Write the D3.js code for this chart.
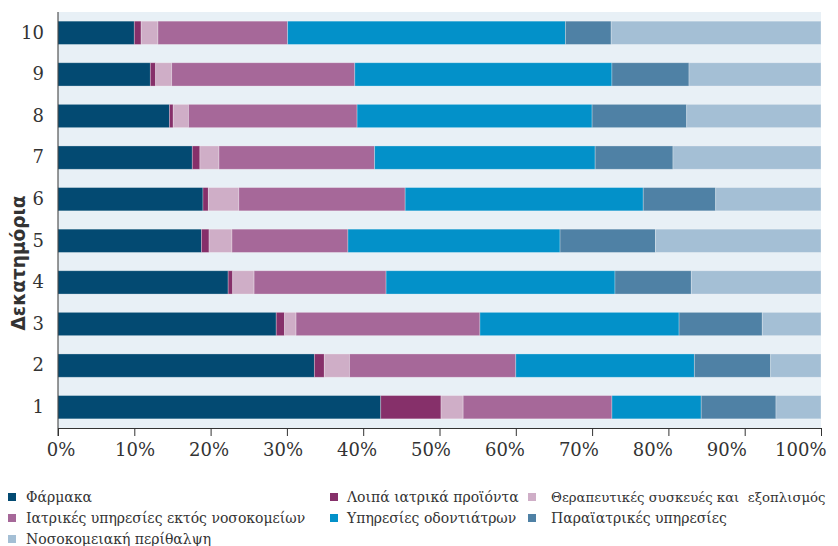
<!DOCTYPE html>
<html><head><meta charset="utf-8">
<script src="https://cdn.jsdelivr.net/npm/d3@7"></script>
<style>body{margin:0;background:#fff}svg{display:block}</style>
</head><body>
<svg id="c" width="838" height="546"></svg>
<script>
const deciles = ["1","2","3","4","5","6","7","8","9","10"];
const seriesNames = ["Φάρμακα","Λοιπά ιατρικά προϊόντα","Θεραπευτικές συσκευές και  εξοπλισμός","Ιατρικές υπηρεσίες εκτός νοσοκομείων","Υπηρεσίες οδοντιάτρων","Παραϊατρικές υπηρεσίες","Νοσοκομειακή περίθαλψη"];
const farmaka     = [42.3,33.6,28.6,22.3,18.8,19.0,17.6,14.6,12.1,10.0];
const loipa       = [7.9,1.3,1.1,0.6,1.0,0.7,1.0,0.5,0.7,0.9];
const therapeft   = [2.9,3.3,1.5,2.8,3.0,4.0,2.5,2.0,2.1,2.2];
const iatrikes    = [19.5,21.8,24.1,17.3,15.2,21.8,20.4,22.1,24.0,17.0];
const odontiatroi = [11.7,23.4,26.1,30.0,27.8,31.2,28.9,30.8,33.7,36.4];
const paraiatr    = [9.8,10.0,10.9,10.0,12.5,9.5,10.2,12.4,10.1,6.0];
const nosokom     = [5.9,6.6,7.7,17.0,21.7,13.8,19.4,17.6,17.3,27.5];
const xTicks = [0,10,20,30,40,50,60,70,80,90,100];
const colors = ["#034a72","#86306a","#cfaec7","#a66899","#0391c9","#4f81a5","#a4bfd5"];

const seriesVals = [farmaka,loipa,therapeft,iatrikes,odontiatroi,paraiatr,nosokom];
const rows = deciles.map((d,i)=>{const o={dec:d}; seriesNames.forEach((s,j)=>o[s]=seriesVals[j][i]); return o;});
const stacked = d3.stack().keys(seriesNames)(rows);

const svg = d3.select("#c");
const m = {l:58, r:821, t:12, b:428};
const x = d3.scaleLinear().domain([0,100]).range([m.l, m.r]);
const y = d3.scaleBand().domain(deciles.slice().reverse()).range([m.t, m.b]).paddingInner(0.44).paddingOuter(0.22);

svg.append("rect").attr("x",m.l).attr("y",m.t).attr("width",m.r-m.l).attr("height",m.b-m.t).attr("fill","#e8f0f6");

svg.append("g").selectAll("g").data(stacked).join("g")
  .attr("fill",(d,i)=>colors[i])
  .selectAll("rect").data(d=>d).join("rect")
  .attr("x",d=>x(d[0])).attr("width",d=>x(d[1])-x(d[0]))
  .attr("y",d=>y(d.data.dec)).attr("height",y.bandwidth())
  .attr("stroke","rgba(255,255,255,0.35)").attr("stroke-width",0.8);

const xa = svg.append("g").attr("transform",`translate(0,${m.b})`)
  .call(d3.axisBottom(x).tickValues(xTicks).tickFormat(d=>d+"%").tickSize(8).tickSizeOuter(0));
xa.select(".domain").attr("stroke","#333");
xa.selectAll(".tick line").attr("stroke","#333");
xa.selectAll("text").attr("font-family","DejaVu Serif").attr("font-size","18px").attr("fill","#333")
  .attr("dy","0.95em").attr("dx",(d,i)=>2.6-2.33*i);

const ya = svg.append("g").attr("transform",`translate(${m.l},0)`)
  .call(d3.axisLeft(y).tickSize(0).tickPadding(14));
ya.select(".domain").attr("stroke","#333").attr("d",`M0,${m.t}V${m.b+8}`);
ya.selectAll("text").attr("font-family","DejaVu Serif").attr("font-size","18px").attr("fill","#333");

svg.append("text").attr("transform","translate(25,263) rotate(-90)")
  .attr("text-anchor","middle").attr("font-family","DejaVu Sans").attr("font-weight","bold")
  .attr("font-size","18.5px").attr("fill","#333").text("Δεκατημόρια");

const legPos = [[8,497],[330,497],[528,497],[8,518],[330,518],[528,518],[8,539]];
const lg = svg.append("g").selectAll("g").data(seriesNames).join("g")
  .attr("transform",(d,i)=>`translate(${legPos[i][0]},${legPos[i][1]})`);
lg.append("rect").attr("x",0).attr("y",-4).attr("width",8).attr("height",8).attr("fill",(d,i)=>colors[i]);
lg.append("text").attr("x",(d,i)=>i===2||i===5?23:(i===1||i===4?17:18)).attr("y",0).attr("dy","0.35em").attr("font-family","DejaVu Serif")
  .attr("font-size",(d,i)=>i===2?"13.3px":"14px").attr("fill","#333").style("white-space","pre").text(d=>d);
</script>
</body></html>
